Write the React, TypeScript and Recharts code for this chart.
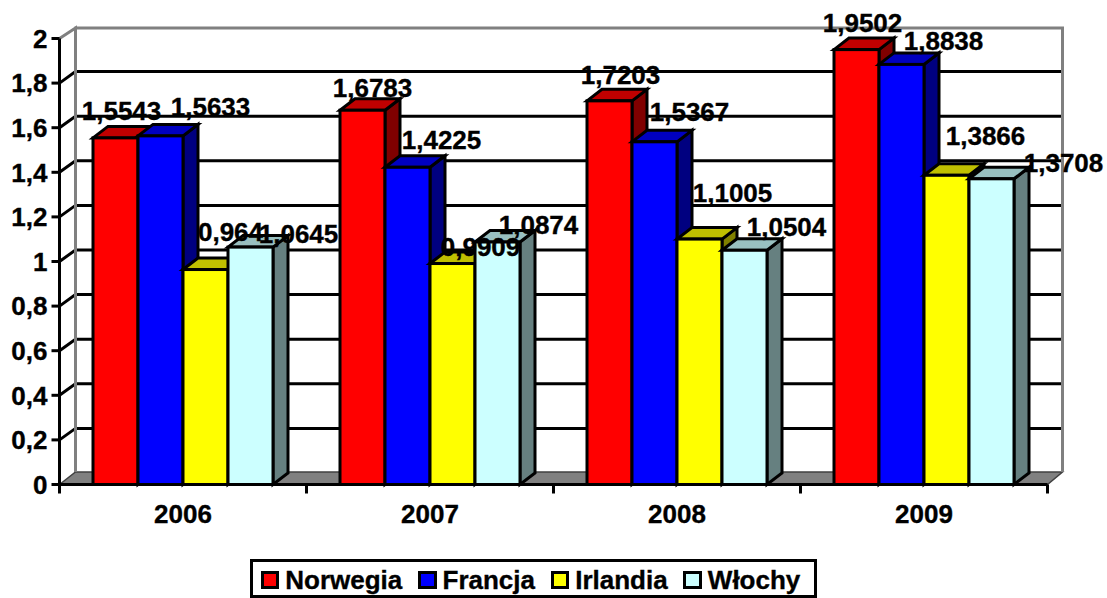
import React from "react";
import {
  ComposedChart,
  Bar,
  XAxis,
  YAxis,
  CartesianGrid,
  Legend,
  LabelList,
  ReferenceArea,
} from "recharts";

const years = ["2006", "2007", "2008", "2009"];
const norwegia = [1.5543, 1.6783, 1.7203, 1.9502];
const francja = [1.5633, 1.4225, 1.5367, 1.8838];
const irlandia = [0.964, 0.9909, 1.1005, 1.3866];
const wlochy = [1.0645, 1.0874, 1.0504, 1.3708];
const yTicks = [0, 0.2, 0.4, 0.6, 0.8, 1, 1.2, 1.4, 1.6, 1.8, 2];

const rows = years.map((year, i) => ({
  year,
  norwegia: norwegia[i],
  francja: francja[i],
  irlandia: irlandia[i],
  wlochy: wlochy[i],
}));

const FONT = "'Liberation Sans', Arial, sans-serif";
const DX = 15;
const DY = 11.5;
const STROKE = 3;
const STEP = 247;

const series = [
  { key: "norwegia", name: "Norwegia", front: "#FF0000", top: "#C00000", side: "#800000", ldx: [6, 10, 11, 6], ldy: [-27, -22, -26, -27] },
  { key: "francja", name: "Francja", front: "#0000FF", top: "#0000C0", side: "#000080", ldx: [50, 34, 35, 42], ldy: [-29, -27, -30, -23] },
  { key: "irlandia", name: "Irlandia", front: "#FFFF00", top: "#C0C000", side: "#808000", ldx: [25, 28, 33, 39], ldy: [-38, -17, -46, -39] },
  { key: "wlochy", name: "Włochy", front: "#CCFFFF", top: "#99C0C0", side: "#668080", ldx: [48, 41, 42, 72], ldy: [-13, -17, -23, -16] },
];

const boldText = { fontFamily: FONT, fontWeight: "bold", fontSize: 26, fill: "#000", stroke: "#000", strokeWidth: 0.35 };

const makeBarShape = (s: any) => (p: any) => {
  const { x, y, width: w, height: h } = p;
  return (
    <g stroke="#000" strokeWidth={STROKE} strokeLinejoin="miter">
      <polygon fill={s.side} points={`${x + w},${y} ${x + w + DX},${y - DY} ${x + w + DX},${y + h - DY} ${x + w},${y + h}`} />
      <polygon fill={s.top} points={`${x},${y} ${x + DX},${y - DY} ${x + w + DX},${y - DY} ${x + w},${y}`} />
      <rect x={x} y={y} width={w} height={h} fill={s.front} />
    </g>
  );
};

const makeLabel = (s: any) => (p: any) => {
  const { x, y, width, value, index } = p;
  return (
    <text x={x + width / 2 + s.ldx[index]} y={y + s.ldy[index] + 9} textAnchor="middle" {...boldText}>
      {String(value).replace(".", ",")}
    </text>
  );
};

const WallShape = (p: any) => {
  const { x, y, width: w, height: h } = p;
  return (
    <g>
      <polygon
        fill="#808080"
        stroke="#404040"
        strokeWidth={1.5}
        points={`${x},${y + h} ${x + DX + 1},${y + h - DY - 1} ${x + w + DX},${y + h - DY - 1} ${x + w},${y + h}`}
      />
      <polyline
        fill="none"
        stroke="#808080"
        strokeWidth={STROKE}
        points={`${x},${y} ${x + DX + 1},${y - DY + 1} ${x + DX + 1},${y + h - DY - 1}`}
      />
      <polyline
        fill="none"
        stroke="#808080"
        strokeWidth={STROKE}
        points={`${x + DX},${y - DY + 1} ${x + w + DX},${y - DY + 1} ${x + w + DX},${y + h - DY - 1}`}
      />
    </g>
  );
};

const gridLine = (p: any) => {
  const { x1, x2, y1, index } = p;
  if (Math.abs(y1 - 484.5) < 1 || Math.abs(y1 - 38.5) < 1) return <g key={`g${index ?? y1}`} />;
  return (
    <polyline
      key={`g${index ?? y1}`}
      fill="none"
      stroke="#000"
      strokeWidth={STROKE}
      points={`${x1},${y1} ${x1 + DX + 1},${y1 - DY} ${x2 + DX},${y1 - DY}`}
    />
  );
};

const XTick = (p: any) => {
  const { x, y, payload, index } = p;
  const base = y - 8;
  const last = index === years.length - 1;
  return (
    <g>
      <line x1={x - STEP / 2} x2={x - STEP / 2} y1={base} y2={base + 9} stroke="#000" strokeWidth={STROKE} />
      {last && <line x1={x + STEP / 2} x2={x + STEP / 2} y1={base} y2={base + 9} stroke="#000" strokeWidth={STROKE} />}
      <text x={x} y={base + 38.5} textAnchor="middle" {...boldText}>
        {payload.value}
      </text>
    </g>
  );
};

const LegendBox = (p: any) => {
  const items = p.payload || [];
  return (
    <div
      style={{
        boxSizing: "border-box",
        width: 567,
        height: 39,
        border: "3px solid #000",
        background: "#fff",
        display: "flex",
        alignItems: "center",
        paddingLeft: 7.7,
        paddingTop: 3,
        fontFamily: FONT,
        fontWeight: "bold",
        fontSize: 26,
        color: "#000",
        whiteSpace: "nowrap",
        WebkitTextStroke: "0.35px #000",
      }}
    >
      {items.map((it: any, i: number) => (
        <span key={it.value} style={{ display: "flex", alignItems: "center", marginLeft: i === 0 ? 0 : 15.6 }}>
          <span
            style={{
              boxSizing: "border-box",
              display: "inline-block",
              width: 18.6,
              height: 18.6,
              border: "3px solid #000",
              background: it.color,
              marginRight: 6,
            }}
          />
          {it.value}
        </span>
      ))}
    </div>
  );
};

export default function App() {
  return (
    <div style={{ position: "absolute", left: 0, top: 0, width: 1107, height: 598, background: "#fff" }}>
      <ComposedChart
        width={1107}
        height={598}
        data={rows}
        barGap={0}
        barCategoryGap={33.5}
        margin={{ top: 38.5, right: 59.5, bottom: 53.5, left: 0 }}
      >
        <CartesianGrid vertical={false} horizontal={gridLine} />
        <XAxis
          dataKey="year"
          height={60}
          interval={0}
          tickLine={false}
          tick={XTick}
          axisLine={{ stroke: "#000", strokeWidth: STROKE }}
        />
        <YAxis
          width={59.5}
          domain={[0, 2]}
          ticks={yTicks}
          interval={0}
          tickSize={8}
          tickMargin={4}
          tickFormatter={(v: number) => String(v).replace(".", ",")}
          axisLine={{ stroke: "#000", strokeWidth: STROKE }}
          tickLine={{ stroke: "#000", strokeWidth: STROKE }}
          tick={boldText}
        />
        <ReferenceArea y1={0} y2={2} ifOverflow="visible" shape={WallShape} />
        {series.map((s) => (
          <Bar
            key={s.key}
            dataKey={s.key}
            name={s.name}
            fill={s.front}
            shape={makeBarShape(s)}
            isAnimationActive={false}
          >
            <LabelList dataKey={s.key} content={makeLabel(s)} />
          </Bar>
        ))}
        <Legend
          layout="horizontal"
          verticalAlign="middle"
          align="center"
          itemSorter={null}
          content={LegendBox}
          wrapperStyle={{ left: 250, top: 559, width: 567, height: 39, bottom: "auto", right: "auto" }}
        />
      </ComposedChart>
    </div>
  );
}
